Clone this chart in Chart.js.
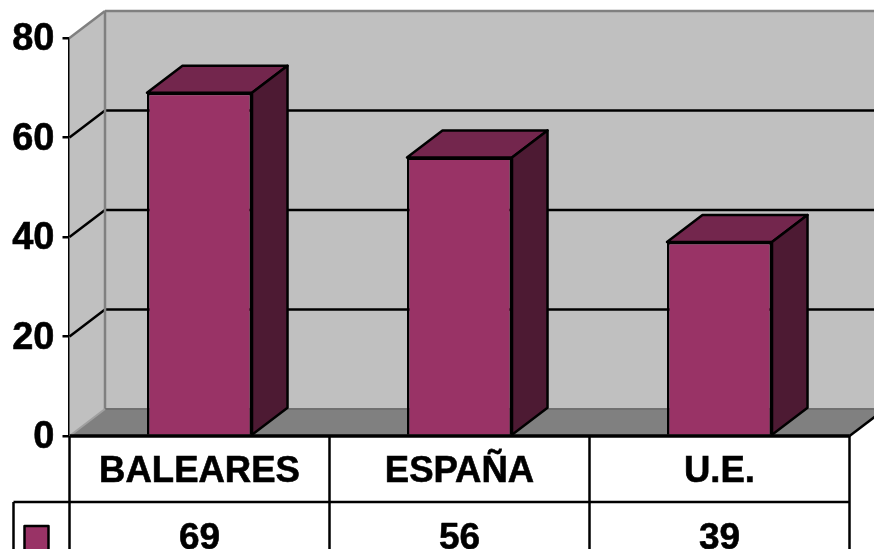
<!DOCTYPE html>
<html>
<head>
<meta charset="utf-8">
<title>Baleares, España, U.E.</title>
<script src="https://cdn.jsdelivr.net/npm/chart.js@4/dist/chart.umd.min.js"></script>
<style>
    html, body { margin: 0; padding: 0; background: #fff; overflow: hidden; }
    canvas { display: block; }
</style>
</head>
<body>
<canvas id="barChart" width="874" height="549"></canvas>
<script>
const categories = ['BALEARES', 'ESPAÑA', 'U.E.'];
const values = [69, 56, 39];
const yTicks = [0, 20, 40, 60, 80];

// colours of the 3D box
const barFront = '#993366';
const barTop = '#73264d';
const barSide = '#4d1a33';
const wallColor = '#c0c0c0';
const floorColor = '#808080';

// how far the back wall sits from the front plane
const depthX = 35.5;
const depthY = 27;
const fontStack = '"Liberation Sans", Arial, sans-serif';
const bigFont = 'bold 37px ' + fontStack;

function poly(ctx, pts, fill, stroke, width) {
    ctx.beginPath();
    pts.forEach(function (p, i) {
        if (i === 0) ctx.moveTo(p[0], p[1]);
        else ctx.lineTo(p[0], p[1]);
    });
    ctx.closePath();
    if (fill) {
        ctx.fillStyle = fill;
        ctx.fill();
    }
    if (stroke) {
        ctx.strokeStyle = stroke;
        ctx.lineWidth = width;
        ctx.lineJoin = 'round';
        ctx.stroke();
    }
}

function line(ctx, x1, y1, x2, y2, color, width) {
    ctx.beginPath();
    ctx.moveTo(x1, y1);
    ctx.lineTo(x2, y2);
    ctx.strokeStyle = color;
    ctx.lineWidth = width;
    ctx.stroke();
}

// walls, floor and back grid lines, behind the bars
const wallsPlugin = {
    id: 'walls',
    beforeDatasetsDraw(chart) {
        const ctx = chart.ctx;
        const a = chart.chartArea;
        const y = chart.scales.y;
        ctx.save();
        poly(ctx, [[a.left, a.top], [a.left + depthX, a.top - depthY], [a.right + depthX, a.top - depthY],
            [a.right + depthX, a.bottom - depthY], [a.left + depthX, a.bottom - depthY], [a.left, a.bottom]], wallColor);
        poly(ctx, [[a.left, a.bottom], [a.left + depthX, a.bottom - depthY],
            [a.right + depthX, a.bottom - depthY], [a.right, a.bottom]], floorColor);

        yTicks.forEach(function (v) {
            if (v === yTicks[0] || v === yTicks[yTicks.length - 1]) return;
            const py = y.getPixelForValue(v);
            line(ctx, a.left, py, a.left + depthX, py - depthY, '#000', 2.5);
            line(ctx, a.left + depthX, py - depthY, a.right + depthX, py - depthY, '#000', 2.5);
        });

        // wall edges
        line(ctx, a.left, a.top, a.left + depthX, a.top - depthY, floorColor, 2.5);
        line(ctx, a.left + depthX, a.top - depthY, a.right + depthX, a.top - depthY, floorColor, 2.5);
        line(ctx, a.left + depthX, a.top - depthY, a.left + depthX, a.bottom - depthY, floorColor, 2.5);
        line(ctx, a.left + depthX, a.bottom - depthY, a.right + depthX, a.bottom - depthY, '#707070', 2);
        line(ctx, a.left, a.bottom, a.left + depthX, a.bottom - depthY, '#a0a0a0', 2);
        line(ctx, a.right, a.bottom, a.right + depthX, a.bottom - depthY, '#000', 2.5);
        ctx.restore();
    },
    afterDatasetsDraw(chart) {
        const ctx = chart.ctx;
        ctx.save();
        chart.getDatasetMeta(0).data.forEach(function (bar) {
            const left = bar.x - bar.width / 2;
            const right = bar.x + bar.width / 2;
            poly(ctx, [[left, bar.y], [left + depthX, bar.y - depthY], [right + depthX, bar.y - depthY], [right, bar.y]],
                barTop, '#000', 2.5);
            poly(ctx, [[right, bar.y], [right + depthX, bar.y - depthY], [right + depthX, bar.base - depthY], [right, bar.base]],
                barSide, '#000', 2.5);
        });
        ctx.restore();
    }
};

// data table under the plot
const tablePlugin = {
    id: 'dataTable',
    afterDraw(chart) {
        const ctx = chart.ctx;
        const a = chart.chartArea;
        const x = chart.scales.x;
        const rowLine = a.bottom + 66;
        const bottom = chart.height;
        const keyLeft = a.left - 56;
        ctx.save();
        line(ctx, a.left, a.bottom, a.right, a.bottom, '#000', 3.5);
        line(ctx, keyLeft, rowLine, a.right, rowLine, '#000', 2.5);
        line(ctx, keyLeft, rowLine, keyLeft, bottom, '#000', 2.5);
        line(ctx, a.left, a.bottom, a.left, bottom, '#000', 2.5);
        categories.forEach(function (c, i) {
            const edge = x.getPixelForValue(i) + (x.getPixelForValue(1) - x.getPixelForValue(0)) / 2;
            line(ctx, edge, a.bottom, edge, bottom, '#000', 2.5);
        });

        // legend key, cut off by the bottom of the picture
        poly(ctx, [[keyLeft + 11, rowLine + 24], [keyLeft + 35, rowLine + 24], [keyLeft + 35, rowLine + 60], [keyLeft + 11, rowLine + 60]],
            barFront, '#000', 2.5);

        ctx.fillStyle = '#000';
        ctx.strokeStyle = '#000';
        ctx.lineWidth = 0.6;
        ctx.font = bigFont;
        ctx.textAlign = 'center';
        ctx.textBaseline = 'middle';
        values.forEach(function (v, i) {
            ctx.fillText(String(v), x.getPixelForValue(i), rowLine + 37);
            ctx.strokeText(String(v), x.getPixelForValue(i), rowLine + 37);
        });
        ctx.restore();
    }
};

new Chart(document.getElementById('barChart').getContext('2d'), {
    type: 'bar',
    plugins: [wallsPlugin, tablePlugin],
    data: {
        labels: categories,
        datasets: [{
            data: values,
            backgroundColor: barFront,
            borderColor: '#000',
            borderWidth: 2.5,
            categoryPercentage: 1,
            barPercentage: 0.404
        }]
    },
    options: {
        responsive: false,
        animation: false,
        layout: { padding: { top: 38, right: 24.5, left: 0, bottom: 0 } },
        plugins: { legend: { display: false }, tooltip: { enabled: false } },
        scales: {
            x: {
                afterFit(scale) { scale.height = 113; },
                grid: { display: false },
                border: { display: false },
                ticks: {
                    color: '#000',
                    font: { family: fontStack, size: 36.5, weight: 'bold' },
                    textStrokeColor: '#000',
                    textStrokeWidth: 0.6,
                    padding: 6,
                    maxRotation: 0,
                    autoSkip: false
                }
            },
            y: {
                min: 0,
                max: 80,
                afterFit(scale) { scale.width = 69.5; },
                afterBuildTicks(scale) { scale.ticks = yTicks.map(function (v) { return { value: v }; }); },
                grid: { drawOnChartArea: false, drawTicks: true, tickLength: 7, color: '#000', lineWidth: 2.5 },
                border: { display: true, color: '#000', width: 2.5 },
                ticks: {
                    color: '#000',
                    font: { family: fontStack, size: 38, weight: 'bold' },
                    textStrokeColor: '#000',
                    textStrokeWidth: 0.6,
                    labelOffset: 2,
                    padding: 8
                }
            }
        }
    }
});
</script>
</body>
</html>
